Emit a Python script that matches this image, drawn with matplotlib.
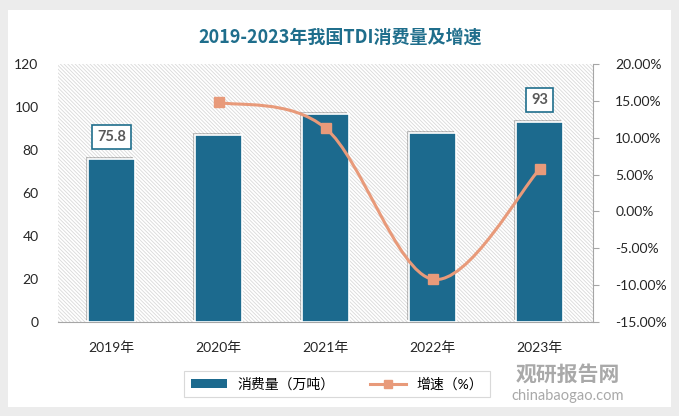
import numpy as np
import matplotlib
matplotlib.use("Agg")
import matplotlib.pyplot as plt
import matplotlib.patheffects as pe
from matplotlib.path import Path
from matplotlib.patches import PathPatch, Rectangle
from matplotlib.lines import Line2D

plt.rcParams['font.family'] = ['Lato', 'Noto Sans CJK SC', 'DejaVu Sans']
plt.rcParams['hatch.color'] = '#d9d9d9'
plt.rcParams['hatch.linewidth'] = 0.6

# ---------------------------------------------------------------------
# data
# ---------------------------------------------------------------------
years = ["2019年", "2020年", "2021年", "2022年", "2023年"]
consumption = [75.8, 87.0, 96.8, 88.0, 93.0]          # 万吨
growth_years = ["2020年", "2021年", "2022年", "2023年"]
growth = [14.8, 11.3, -9.2, 5.7]                       # %
labelled = {"2019年": "75.8", "2023年": "93"}

BAR_COLOR = '#1c6a8e'
LINE_COLOR = '#e89a7a'
TITLE_COLOR = '#1f6e8c'

fig = plt.figure(figsize=(6.79, 4.16), dpi=100)
fig.patch.set_facecolor('#ececec')
# white card
fig.patches.append(Rectangle((8 / 679, 1 - 407 / 416), 663 / 679, 397 / 416,
                             transform=fig.transFigure, facecolor='white',
                             edgecolor='none', zorder=-10))

ax = fig.add_axes([58 / 679, 94 / 416, 535 / 679, 258 / 416])
ax.set_facecolor('white')
ax.patch.set_hatch('\\' * 9)
ax.patch.set_edgecolor('#d9d9d9')
ax.patch.set_linewidth(0)

x = np.arange(len(years))
bars = ax.bar(x, consumption, width=0.44, color=BAR_COLOR, edgecolor='white',
              linewidth=1.2, zorder=3)
for b in bars:
    b.set_path_effects([pe.SimplePatchShadow(offset=(-1.5, 1.5), alpha=0.35,
                                             shadow_rgbFace='#555555'),
                        pe.Normal()])

for i, yr in enumerate(years):
    if yr in labelled:
        ax.annotate(labelled[yr], (x[i], consumption[i]), xytext=(0, 16),
                    textcoords='offset points', ha='center', va='center',
                    fontsize=10.5, fontweight='bold', color='#595959', zorder=6,
                    bbox=dict(boxstyle='square,pad=0.35', facecolor='white',
                              edgecolor=TITLE_COLOR, linewidth=1.2))

ax.set_xlim(-0.5, len(years) - 0.5)
ax.set_ylim(0, 120)
ax.set_yticks(np.arange(0, 121, 20))
ax.set_xticks(x)
ax.set_xticklabels(years)
for s in ['top', 'right', 'left']:
    ax.spines[s].set_visible(False)
ax.spines['bottom'].set_color('#a6a6a6')
ax.tick_params(axis='y', length=0, labelsize=10, colors='#262626', pad=14)
ax.tick_params(axis='x', length=0, labelsize=10, colors='#262626', pad=14)

# growth line (smooth curve, Catmull-Rom style bezier through the points)
ax2 = ax.twinx()
ax2.set_ylim(-15, 20)
ax2.set_yticks(np.arange(-15, 21, 5))
ax2.set_yticklabels([f"{v:.2f}%" for v in np.arange(-15, 21, 5)])
for s in ['top', 'left', 'bottom']:
    ax2.spines[s].set_visible(False)
ax2.spines['right'].set_color('#a6a6a6')
ax2.tick_params(axis='y', length=4, direction='out', colors='#a6a6a6',
                labelcolor='#262626', labelsize=10, pad=12)

gx = np.array([years.index(g) for g in growth_years], dtype=float)
gy = np.array(growth, dtype=float)
pts = np.column_stack([gx, gy])
verts = [pts[0]]
codes = [Path.MOVETO]
for k in range(len(pts) - 1):
    p0 = pts[k - 1] if k > 0 else pts[k]
    p1, p2 = pts[k], pts[k + 1]
    p3 = pts[k + 2] if k + 2 < len(pts) else pts[k + 1]
    c1 = p1 + (p2 - p0) / 6.0
    c2 = p2 - (p3 - p1) / 6.0
    verts += [c1, c2, p2]
    codes += [Path.CURVE4] * 3
ax2.add_patch(PathPatch(Path(verts, codes), facecolor='none', edgecolor=LINE_COLOR,
                        linewidth=2.2, zorder=4, capstyle='round'))
ax2.plot(gx, gy, linestyle='none', marker='s', markersize=7.5, color=LINE_COLOR,
         zorder=5)

fig.text(340 / 679, 1 - 37 / 416, "2019-2023年我国TDI消费量及增速", ha='center',
         va='center', fontsize=13, fontweight='bold', color=TITLE_COLOR,
         family=['Noto Sans CJK SC', 'DejaVu Sans'])

handles = [Rectangle((0, 0), 1, 1, facecolor=BAR_COLOR, edgecolor='none'),
           Line2D([], [], color=LINE_COLOR, linewidth=2.2, marker='s', markersize=6)]
leg = fig.legend(handles, ["消费量（万吨）", "增速（%）"], loc='center',
                 bbox_to_anchor=(337 / 679, 1 - 384 / 416), ncol=2, fontsize=10,
                 frameon=True, fancybox=False, edgecolor='#d0d0d0',
                 handlelength=2.6, handleheight=0.6, columnspacing=2.5,
                 borderpad=0.45)
leg.get_frame().set_linewidth(0.8)

# watermark
fig.text(568 / 679, 1 - 374 / 416, "观研报告网", ha='center', va='center',
         fontsize=15, fontweight='bold', color='#8c8c8c', alpha=0.75,
         family=['Noto Sans CJK SC'])
fig.text(568 / 679, 1 - 396 / 416, "chinabaogao.com", ha='center', va='center',
         fontsize=10.5, color='#8c8c8c', alpha=0.75)

fig.savefig("out.png", dpi=100, facecolor=fig.get_facecolor())
